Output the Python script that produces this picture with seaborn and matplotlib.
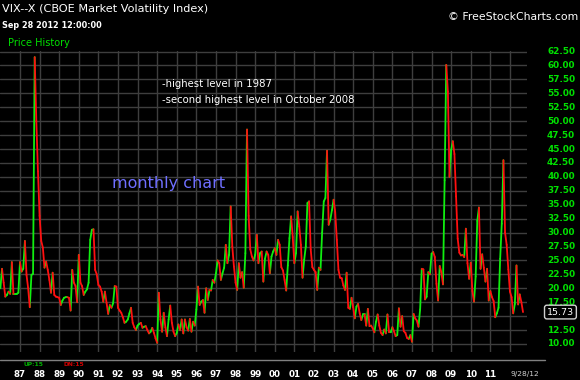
import numpy as np
import pandas as pd
import matplotlib.pyplot as plt
import seaborn as sns
from matplotlib.lines import Line2D

# monthly closes, Jan 1986 .. Sep 2012
vix_86_90 = [20.0, 23.5, 21.0, 18.5, 18.8, 19.4, 19.0, 24.7, 19.0, 19.0, 19.0, 19.2,
             24.7, 23.0, 23.5, 28.5, 22.4, 20.0, 16.6, 22.4, 22.6, 61.5, 50.0, 41.0,
             33.0, 28.5, 27.3, 23.7, 24.8, 23.3, 21.5, 19.2, 22.8, 18.8, 18.5, 18.4,
             18.3, 17.0, 17.8, 18.3, 18.4, 18.4, 18.3, 16.0, 23.3, 21.0, 20.4, 17.5,
             26.0, 21.0, 20.4, 18.8, 19.4, 19.8, 21.0, 28.7, 30.5, 30.6, 23.3, 22.5]
vix_91_95 = [20.6, 20.3, 19.4, 17.6, 19.4, 17.4, 15.4, 17.0, 16.5, 17.3, 20.4, 20.3,
             16.5, 16.0, 15.6, 14.8, 13.8, 14.0, 14.4, 15.5, 16.5, 13.8, 13.0, 12.5,
             13.3, 13.6, 13.8, 12.9, 13.1, 13.2, 12.5, 11.9, 12.2, 12.9, 12.0, 11.0,
             10.2, 19.2, 14.4, 12.2, 15.6, 13.0, 11.4, 14.4, 16.9, 13.8, 12.2, 11.4,
             12.0, 13.5, 12.5, 14.4, 11.9, 14.4, 13.0, 12.4, 14.5, 12.2, 14.0, 13.3]
vix_96_00 = [16.2, 20.3, 17.0, 17.6, 17.9, 15.6, 20.0, 17.9, 19.7, 19.6, 21.5, 21.0,
             22.7, 25.0, 24.5, 21.5, 22.7, 23.7, 27.8, 24.5, 26.0, 34.7, 27.5, 23.9,
             21.0, 19.7, 24.5, 21.9, 22.9, 20.1, 26.3, 48.5, 33.0, 27.0, 25.7, 25.0,
             26.0, 29.6, 24.5, 26.3, 26.6, 21.2, 25.3, 26.6, 26.0, 22.7, 25.7, 26.6,
             27.2, 26.0, 28.7, 27.8, 23.8, 23.2, 21.5, 19.6, 24.1, 29.0, 32.9, 29.2]
vix_01_05 = [24.5, 26.3, 33.8, 31.1, 27.8, 21.9, 25.1, 27.5, 35.3, 35.6, 27.0, 23.8,
             23.3, 22.9, 19.7, 23.7, 23.3, 30.0, 35.6, 36.2, 44.7, 31.4, 32.3, 34.0,
             35.9, 33.7, 28.7, 23.3, 21.9, 21.8, 20.5, 19.7, 22.8, 16.5, 16.3, 18.3,
             16.6, 14.6, 16.7, 17.2, 15.5, 14.3, 15.3, 15.3, 13.3, 16.3, 13.2, 13.3,
             12.8, 12.1, 14.0, 15.3, 13.3, 12.0, 11.6, 12.6, 11.9, 15.3, 12.1, 12.1]
vix_06_10 = [13.0, 12.3, 11.4, 11.6, 16.4, 13.1, 15.0, 12.3, 12.0, 11.1, 10.9, 11.6,
             10.4, 15.4, 14.6, 14.2, 13.1, 16.2, 23.5, 23.4, 18.0, 18.5, 22.9, 22.5,
             26.2, 26.5, 25.6, 20.8, 17.8, 24.0, 22.9, 20.7, 39.4, 60.1, 55.3, 40.0,
             44.8, 46.4, 44.1, 36.5, 28.9, 26.4, 25.9, 26.0, 25.6, 30.7, 24.5, 21.7,
             24.6, 19.5, 17.6, 22.1, 32.1, 34.5, 23.5, 26.1, 23.7, 21.2, 23.5, 17.8]
vix_11_12 = [19.5, 18.4, 17.7, 14.8, 15.5, 16.5, 25.3, 31.6, 43.0, 30.0, 27.8, 23.4,
             19.4, 18.4, 15.5, 17.2, 24.1, 17.1, 18.9, 17.5, 15.73]

year_ticks = list(range(1987, 2013))
year_labels = ["87", "88", "89", "90", "91", "92", "93", "94", "95", "96", "97", "98",
               "99", "00", "01", "02", "03", "04", "05", "06", "07", "08", "09", "10",
               "11", ""]
price_labels = [10.0, 12.5, 17.5, 20.0, 22.5, 25.0, 27.5, 30.0, 32.5, 35.0, 37.5, 40.0,
                42.5, 45.0, 47.5, 50.0, 52.5, 55.0, 57.5, 60.0, 62.5]
last_close = 15.73
last_date = "9/28/12"

vix = vix_86_90 + vix_91_95 + vix_96_00 + vix_01_05 + vix_06_10 + vix_11_12
t = 1986 + np.arange(len(vix)) / 12

# one two-point segment per month, coloured by direction
rows = []
for i in range(len(vix) - 1):
    d = "up" if vix[i + 1] >= vix[i] else "down"
    rows.append((i, d, t[i], vix[i]))
    rows.append((i, d, t[i + 1], vix[i + 1]))
seg = pd.DataFrame(rows, columns=["seg", "dir", "t", "vix"])

sns.set_theme(style="dark")
plt.rcParams["font.family"] = ["DejaVu Sans"]

W, H = 580, 380
fig = plt.figure(figsize=(5.8, 3.8), dpi=100, facecolor="black")
ax = fig.add_axes([0, 28 / H, 527 / W, 301 / H])
ax.set_facecolor("black")

sns.lineplot(data=seg, x="t", y="vix", hue="dir", units="seg", estimator=None,
             sort=False, palette={"up": "#10ee10", "down": "#ff1010"},
             linewidth=1.3, legend=False, ax=ax)

ax.set_xlim(1985.98, 2012.87)
ax.set_ylim(8.56, 62.6)
ax.set_xlabel("")
ax.set_ylabel("")
for s in ax.spines.values():
    s.set_visible(False)

ax.set_yticks(np.arange(10, 62.6, 2.5))
ax.set_xticks(year_ticks)
ax.set_xticklabels(year_labels)
ax.grid(True, color="#3e3e3e", linewidth=1)
ax.set_axisbelow(True)
ax.tick_params(axis="y", left=False, labelleft=False)
ax.tick_params(axis="x", length=0, pad=13, colors="white", labelsize=6.3)
for lbl in ax.get_xticklabels():
    lbl.set_fontweight("bold")

# right-hand price scale
ytr = ax.get_yaxis_transform()
for v in price_labels:
    ax.text(575 / 527, v, f"{v:.2f}", transform=ytr, ha="right", va="center",
            color="#00e000", fontsize=6.4, fontweight="bold")
ax.text(574 / 527, last_close, f"{last_close:.2f}", transform=ytr, ha="right",
        va="center", color="white", fontsize=6.8,
        bbox=dict(boxstyle="round,pad=0.25", fc="black", ec="#d0d0d0", lw=1))

ax.text(2012.74, -22 / 301, last_date, transform=ax.get_xaxis_transform(),
        ha="center", va="center", color="#d0d0d0", fontsize=5.4)

fig.add_artist(Line2D([0, 545 / W], [1 - 360 / H] * 2, color="#808080", lw=1,
                      transform=fig.transFigure))

# header texts
def ftext(x, y, s, **kw):
    fig.text(x / W, 1 - y / H, s, va="center", **kw)

# small up/down counter squeezed between separator and year labels
ftext(24, 365, "UP:15", color="#00b000", fontsize=4.3, fontweight="bold")
ftext(64, 365, "DN:15", color="#d00000", fontsize=4.3, fontweight="bold")

ftext(2, 9, "VIX--X (CBOE Market Volatility Index)", color="white", fontsize=8.1)
ftext(2, 25, "Sep 28 2012 12:00:00", color="white", fontsize=5.9, fontweight="bold")
ftext(8, 43, "Price History", color="#00e000", fontsize=7.0)
ftext(578, 17, "© FreeStockCharts.com", color="white", fontsize=7.8, ha="right")
ftext(162, 84, "-highest level in 1987", color="white", fontsize=7.3)
ftext(162, 100, "-second highest level in October 2008", color="white", fontsize=7.3)
ftext(112, 183, "monthly chart", color="#6f6fff", fontsize=11.5)

fig.savefig("out.png", dpi=100, facecolor="black")
